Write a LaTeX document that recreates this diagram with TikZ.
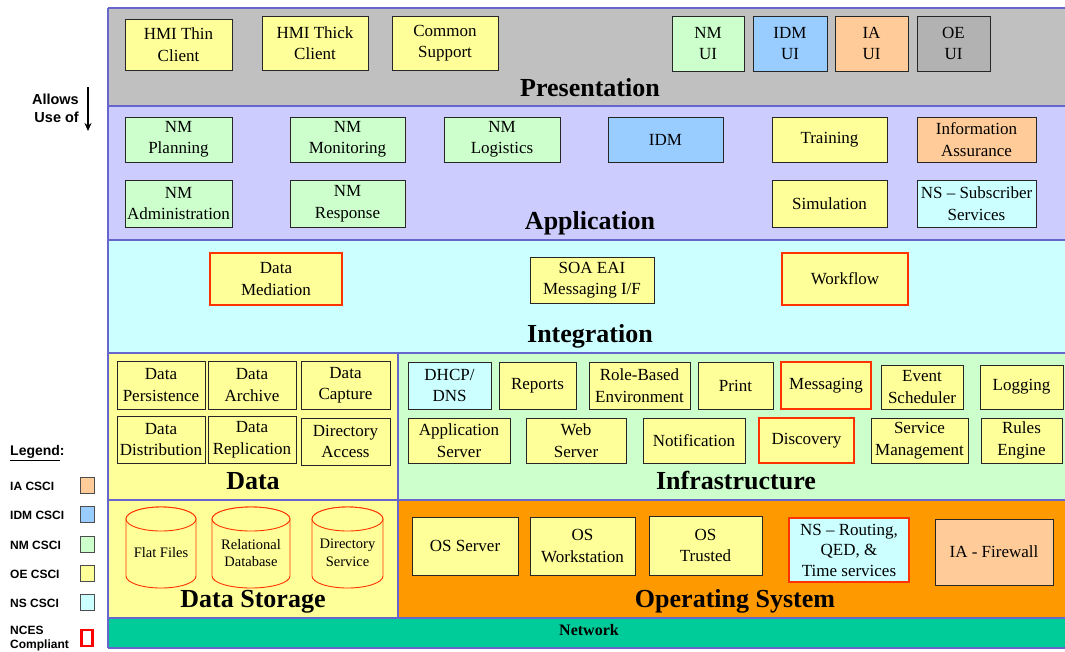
\documentclass[tikz,border=0pt]{standalone}
\usepackage{fontspec}
\setmainfont{Liberation Serif}
\newfontfamily\arialfont{Liberation Sans}
\usetikzlibrary{arrows.meta}

\definecolor{cGrey}{HTML}{C0C0C0}
\definecolor{cApp}{HTML}{CCCCFF}
\definecolor{cCyan}{HTML}{CCFFFF}
\definecolor{cYel}{HTML}{FFFF99}
\definecolor{cGreen}{HTML}{CCFFCC}
\definecolor{cBlue}{HTML}{99CCFF}
\definecolor{cOrg}{HTML}{FFCC99}
\definecolor{cOS}{HTML}{FF9900}
\definecolor{cNet}{HTML}{00CC99}
\definecolor{cOE}{HTML}{B2B2B2}
\definecolor{cLine}{HTML}{6666CC}
\definecolor{cRed}{HTML}{FF3300}

\newcommand{\bx}[7]{\node[boxst,#6,minimum width={(#4-#2)*1pt},minimum height={(#5-#3)*1pt}] (#1) at ({(#2+#4)/2},{(#3+#5)/2}) {#7};}

\tikzset{
  boxst/.style={draw=black!85, line width=0.9pt, inner sep=0.5pt, align=center,
    font=\fontsize{17}{21.5}\selectfont},
  yb/.style={fill=cYel},
  gb/.style={fill=cGreen},
  bb/.style={fill=cBlue},
  ob/.style={fill=cOrg},
  eb/.style={fill=cOE},
  cb/.style={fill=cCyan},
  nces/.style={draw=cRed, line width=2pt},
  laylabel/.style={font=\fontsize{26}{28}\selectfont\bfseries, inner sep=0pt, anchor=base},
  legtext/.style={font=\arialfont\fontsize{12}{14}\selectfont\bfseries, anchor=west, inner sep=0pt, align=left},
  swatch/.style={draw=black!70, line width=0.8pt, minimum width=14pt, minimum height=16pt, inner sep=0pt},
  cyl/.style={draw=cRed, line width=0.9pt, fill=cYel},
  layline/.style={draw=cLine, line width=1.3pt}
}

\begin{document}
\begin{tikzpicture}[x=1pt,y=-1pt]
\useasboundingbox (0,0) rectangle (1065,651);
\fill[white] (0,0) rectangle (1065,651);

% layers
\fill[cGrey]  (108,8)   rectangle (1065,106);
\fill[cApp]   (108,106) rectangle (1065,240);
\fill[cCyan]  (108,240) rectangle (1065,353);
\fill[cYel]   (108,353) rectangle (398,500);
\fill[cGreen] (398,353) rectangle (1065,500);
\fill[cYel]   (108,500) rectangle (398,618);
\fill[cOS]    (398,500) rectangle (1065,618);
\fill[cNet]   (108,618) rectangle (1065,648);
\draw[layline] (108,8) -- (1065,8);
\draw[layline] (108,106) -- (1065,106);
\draw[layline] (108,240) -- (1065,240);
\draw[layline] (108,353) -- (1065,353);
\draw[layline] (108,500) -- (1065,500);
\draw[layline] (108,618) -- (1065,618);
\draw[layline] (108,648) -- (1065,648);
\draw[layline] (108,8) -- (108,648);
\draw[layline] (398,353) -- (398,618);

% layer labels (baselines)
\node[laylabel] (presL) at (590,96) {Presentation};
\node[laylabel] (appL) at (590,229) {Application};
\node[laylabel] (intL) at (590,342) {Integration};
\node[laylabel] (dataL) at (253,489) {Data};
\node[laylabel] (infL) at (736,489) {Infrastructure};
\node[laylabel] (dsL) at (253,607) {Data Storage};
\node[laylabel] (osL) at (735,607) {Operating System};
\node[font=\fontsize{16}{18}\selectfont\bfseries, inner sep=0pt, anchor=base] (netL) at (589,635) {Network};

% Presentation
\bx{hmithin}{125}{19}{232}{70}{yb}{HMI Thin\\Client}
\bx{hmithick}{262}{16}{368}{70}{yb}{HMI Thick\\Client}
\bx{common}{392}{16}{498}{70}{yb}{Common\\Support}
\bx{nmui}{672}{16}{744}{71}{gb}{NM\\UI}
\bx{idmui}{753}{16}{827}{71}{bb}{IDM\\UI}
\bx{iaui}{835}{16}{908}{71}{ob}{IA\\UI}
\bx{oeui}{917}{16}{990}{71}{eb}{OE\\UI}

% Application
\bx{nmplan}{125}{117}{232}{162}{gb}{NM\\Planning}
\bx{nmmon}{290}{117}{405}{162}{gb}{NM\\Monitoring}
\bx{nmlog}{444}{117}{560}{162}{gb}{NM\\Logistics}
\bx{idm}{608}{117}{723}{162}{bb}{IDM}
\bx{training}{772}{117}{887}{162}{yb}{Training}
\bx{infoa}{917}{117}{1036}{162}{ob}{Information\\Assurance}
\bx{nmadmin}{125}{180}{232}{227}{gb}{NM\\Administration}
\bx{nmresp}{290}{180}{405}{227}{gb}{NM\\Response}
\bx{sim}{772}{180}{887}{227}{yb}{Simulation}
\bx{nssub}{917}{180}{1036}{227}{cb}{NS -- Subscriber\\Services}

% Integration
\bx{datamed}{210}{253}{342}{305}{yb,nces}{Data\\Mediation}
\bx{soa}{530}{257}{654}{303}{yb}{SOA EAI\\Messaging I/F}
\bx{workflow}{782}{253}{908}{305}{yb,nces}{Workflow}

% Data
\bx{dpers}{117}{361}{205}{409}{yb}{Data\\Persistence}
\bx{darch}{208}{361}{296}{409}{yb}{Data\\Archive}
\bx{dcap}{301}{361}{390}{409}{yb}{Data\\Capture}
\bx{ddist}{117}{416}{205}{463}{yb}{Data\\Distribution}
\bx{drep}{208}{416}{296}{463}{yb}{Data\\Replication}
\bx{dirac}{301}{418}{390}{465}{yb}{Directory\\Access}

% Infrastructure
\bx{dhcp}{408}{362}{491}{409}{cb}{DHCP/\\DNS}
\bx{reports}{499}{362}{576}{409}{yb}{Reports}
\bx{rolebased}{589}{362}{690}{409}{yb}{Role-Based\\Environment}
\bx{print}{698}{362}{773}{409}{yb}{Print}
\bx{messaging}{781}{362}{871}{409}{yb,nces}{Messaging}
\bx{eventsch}{881}{365}{963}{409}{yb}{Event\\Scheduler}
\bx{logging}{980}{365}{1063}{409}{yb}{Logging}
\bx{appserver}{408}{418}{510}{463}{yb}{Application\\Server}
\bx{webserver}{526}{418}{626}{463}{yb}{Web\\Server}
\bx{notif}{643}{418}{745}{463}{yb}{Notification}
\bx{discovery}{759}{418}{854}{463}{yb,nces}{Discovery}
\bx{servmgmt}{871}{418}{968}{463}{yb}{Service\\Management}
\bx{rules}{981}{418}{1062}{463}{yb}{Rules\\Engine}

% Operating System
\bx{osserver}{412}{517}{518}{575}{yb}{OS Server}
\bx{osws}{530}{517}{635}{575}{yb}{OS\\Workstation}
\bx{ostrusted}{649}{516}{762}{575}{yb}{OS\\Trusted}
\bx{nsrouting}{789}{518}{909}{582}{cb,nces,line width=2.6pt,font=\fontsize{17}{20.5}\selectfont}{NS -- Routing,\\QED, \&\\Time services}
\bx{iafw}{935}{519}{1053}{585}{ob}{IA - Firewall}

% Data Storage cylinders
\foreach \a/\b/\nm/\txt in {126/196/flat/{Flat Files}, 212/290/reldb/{Relational\\Database}, 312/383/dirsvc/{Directory\\Service}}{
  \pgfmathsetmacro{\cx}{(\a+\b)/2}
  \pgfmathsetmacro{\rx}{(\b-\a)/2}
  \path[cyl] (\a,519) -- (\a,576) arc[start angle=180, end angle=0, x radius=\rx, y radius=12]
     -- (\b,519) arc[start angle=0, end angle=-180, x radius=\rx, y radius=12] -- cycle;
  \draw[cyl] (\cx,519) ellipse[x radius=\rx, y radius=12];
  \node[align=center, inner sep=0pt, font=\fontsize{14.5}{17.5}\selectfont] (\nm) at (\cx,553) {\txt};
}

% Allows use of
\node[font=\arialfont\fontsize{14.5}{18}\selectfont\bfseries, align=right, anchor=east, inner sep=0pt] (allows) at (79,108) {Allows\\Use of};
\coordinate (aTop) at (88,87);
\coordinate (aBot) at (88,131);
\draw[-{Stealth[length=8pt,width=7pt]}, line width=1.6pt] (aTop) -- (aBot);

% Legend
\node[legtext, font=\arialfont\fontsize{14}{16}\selectfont\bfseries] (legend) at (10,453) {\underline{Legend}:};
\node[legtext] (lIA) at (10,486) {IA CSCI};
\node[legtext] (lIDM) at (10,515) {IDM CSCI};
\node[legtext] (lNM) at (10,545) {NM CSCI};
\node[legtext] (lOE) at (10,574) {OE CSCI};
\node[legtext] (lNS) at (10,603) {NS CSCI};
\node[legtext, font=\arialfont\fontsize{12}{14}\selectfont\bfseries] (lNCES) at (10,639) {NCES\\Compliant};
\node[swatch, fill=cOrg] (sIA) at (87,485) {};
\node[swatch, fill=cBlue] (sIDM) at (87,514) {};
\node[swatch, fill=cGreen] (sNM) at (87,544) {};
\node[swatch, fill=cYel] (sOE) at (87,573) {};
\node[swatch, fill=cCyan] (sNS) at (87,602) {};
\node[swatch, draw=red, line width=2.4pt, fill=white, minimum width=11pt, minimum height=16pt] (sNCES) at (87,638) {};
\end{tikzpicture}
\end{document}
